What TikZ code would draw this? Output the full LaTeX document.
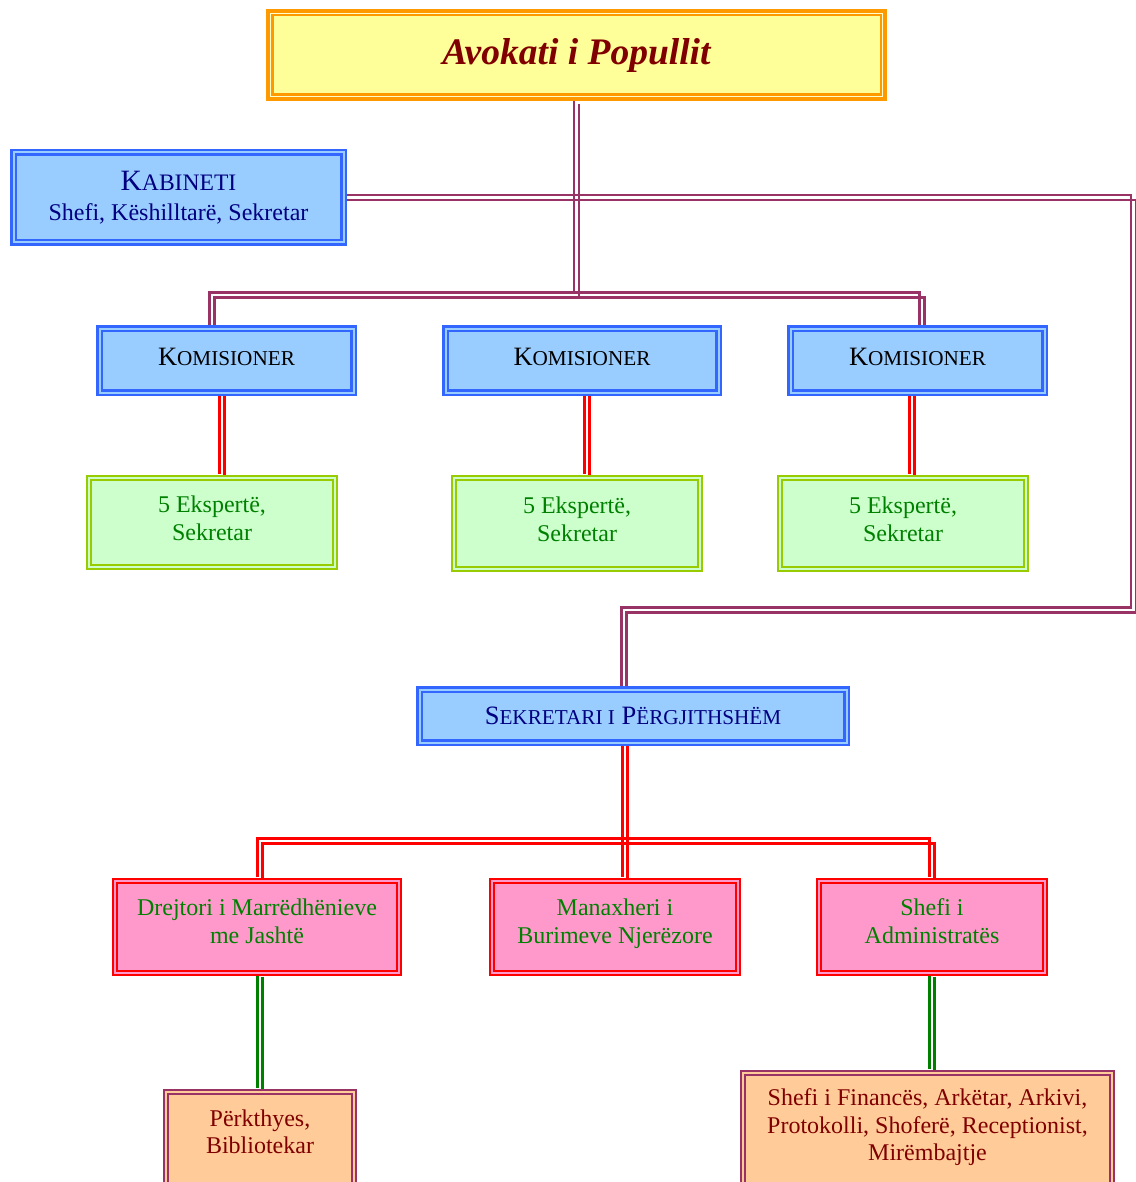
\documentclass[tikz,border=0pt]{standalone}
\usepackage{fontspec}
\setmainfont{Liberation Serif}
\usetikzlibrary{backgrounds}
\definecolor{myplum}{HTML}{993366}
\definecolor{myorange}{HTML}{FF9900}
\definecolor{myyellow}{HTML}{FFFF99}
\definecolor{paleyellow}{HTML}{FFFFCC}
\definecolor{dred}{HTML}{800000}
\definecolor{bblue}{HTML}{3366FF}
\definecolor{lblue}{HTML}{99CCFF}
\definecolor{navyc}{HTML}{000080}
\definecolor{lgreen}{HTML}{CCFFCC}
\definecolor{ygreen}{HTML}{99CC00}
\definecolor{dgreen}{HTML}{008000}
\definecolor{myred}{HTML}{FF0000}
\definecolor{mypink}{HTML}{FF99CC}
\definecolor{peach}{HTML}{FFCC99}
\newcommand\dl[2]{%
  \draw[#1, line width=2.4pt, transform canvas={shift={(-2.6pt,2.6pt)}}] #2;
  \draw[#1, line width=2.4pt, transform canvas={shift={(2.6pt,-2.6pt)}}] #2;}
\newcommand\scK[1]{{\fontsize{21.2}{30}\selectfont #1}}
\tikzset{
  basebox/.style={rectangle, align=center, inner sep=2pt, font=\fontsize{24}{28}\selectfont},
  bluebox/.style={basebox, draw=bblue, double=lblue, double distance=2pt, line width=2.5pt, fill=lblue, text=navyc},
  greenbox/.style={basebox, draw=ygreen, double=lgreen, double distance=2pt, line width=2.2pt, fill=lgreen, text=dgreen, text depth=8pt},
  pinkbox/.style={basebox, draw=myred, double=mypink, double distance=2pt, line width=2.2pt, fill=mypink, text=dgreen, text depth=11pt},
  peachbox/.style={basebox, draw=myplum, double=peach, double distance=2pt, line width=2.2pt, fill=peach},
  peachtext/.style={basebox, text=dred, font=\fontsize{24}{27.5}\selectfont},
  komfont/.style={font=\fontsize{26.5}{30}\selectfont}
}
\begin{document}
\begin{tikzpicture}[x=1pt,y=-1pt]
\useasboundingbox (0,0) rectangle (1135,1182);
\clip (0,0) rectangle (1135,1182);

% Title
\node[rectangle, fill=myyellow, draw=myorange, line width=7pt, minimum width=614pt, minimum height=85pt,
      text=dred, font=\fontsize{37.5}{40}\selectfont\bfseries\itshape] (t) at (576.5,55) {Avokati i Popullit};
\draw[paleyellow, line width=1.5pt] ([shift={(4.5pt,-4.5pt)}]t.north west) rectangle ([shift={(-4.5pt,4.5pt)}]t.south east);
\draw[myorange, line width=2pt] ([shift={(6.5pt,-6.5pt)}]t.north west) rectangle ([shift={(-6.5pt,6.5pt)}]t.south east);

% Kabineti
\node[bluebox, minimum width=330pt, minimum height=90pt, font=\fontsize{24}{30}\selectfont] (kab) at (178.5,197.5)
  {{\fontsize{29.5}{30}\selectfont K}{\fontsize{23.6}{30}\selectfont ABINETI}\\Shefi, Këshilltarë, Sekretar};

% Komisioner
\node[bluebox, komfont, text=black, text depth=7pt, minimum width=254pt, minimum height=64pt] (kom1) at (226.5,360.5) {K\scK{OMISIONER}};
\node[bluebox, komfont, text=black, text depth=7pt, minimum width=273pt, minimum height=64pt] (kom2) at (582,360.5) {K\scK{OMISIONER}};
\node[bluebox, komfont, text=black, text depth=7pt, minimum width=254pt, minimum height=64pt] (kom3) at (917.5,360.5) {K\scK{OMISIONER}};

% Experts
\node[greenbox, minimum width=246pt, minimum height=89pt] (g1) at (212,522.5) {5 Ekspertë,\\Sekretar};
\node[greenbox, minimum width=246pt, minimum height=91pt] (g2) at (577,523.5) {5 Ekspertë,\\Sekretar};
\node[greenbox, minimum width=246pt, minimum height=91pt] (g3) at (903,523.5) {5 Ekspertë,\\Sekretar};

% Sekretari
\node[bluebox, komfont, minimum width=427pt, minimum height=53pt] (sek) at (633,716)
  {S\scK{EKRETARI I} P\scK{ËRGJITHSHËM}};

% Pink
\node[pinkbox, minimum width=284pt, minimum height=92pt] (p1) at (257,927) {Drejtori i Marrëdhënieve\\me Jashtë};
\node[pinkbox, minimum width=246pt, minimum height=92pt] (p2) at (615,927) {Manaxheri i\\Burimeve Njerëzore};
\node[pinkbox, minimum width=226pt, minimum height=92pt] (p3) at (932,927) {Shefi i\\Administratës};

% Bottom
\node[peachbox, minimum width=188pt, minimum height=95pt] (b1) at (260,1139.5) {};
\node[peachtext] (b1t) at (260,1132) {Përkthyes,\\Bibliotekar};
\node[peachbox, minimum width=369pt, minimum height=114pt] (b2) at (927.5,1130) {};
\node[peachtext] (b2t) at (927.5,1127.5) {Shefi i Financës, Arkëtar, Arkivi,\\Protokolli, Shoferë, Receptionist,\\Mirëmbajtje};

% junction coordinates
\coordinate (jA) at (576.5,295);
\coordinate (jL) at (212,295);
\coordinate (jR) at (922,295);
\coordinate (k1) at (1133.5,197.5);
\coordinate (k2) at (1133.5,610);
\coordinate (k3) at (624,610);
\coordinate (sL) at (260,841);
\coordinate (sR) at (932,841);

\begin{pgfonlayer}{background}
\dl{myplum}{(t.south) -- (jA)}
\dl{myplum}{(212,0 |- kom1.north) -- (jL) -- (jR) -- (922,0 |- kom3.north)}
\dl{myplum}{(kab.east) -- (k1) -- (k2) -- (k3) -- (624,0 |- sek.north)}
\dl{myred}{(222,0 |- kom1.south) -- (222,0 |- g1.north)}
\dl{myred}{(587,0 |- kom2.south) -- (587,0 |- g2.north)}
\dl{myred}{(912,0 |- kom3.south) -- (912,0 |- g3.north)}
\dl{myred}{(625,0 |- sek.south) -- (625,0 |- p2.north)}
\dl{myred}{(260,0 |- p1.north) -- (sL) -- (sR) -- (p3.north)}
\dl{dgreen}{(260,0 |- p1.south) -- (260,0 |- b1.north)}
\dl{dgreen}{(p3.south) -- (932,0 |- b2.north)}
\end{pgfonlayer}
\end{tikzpicture}
\end{document}
